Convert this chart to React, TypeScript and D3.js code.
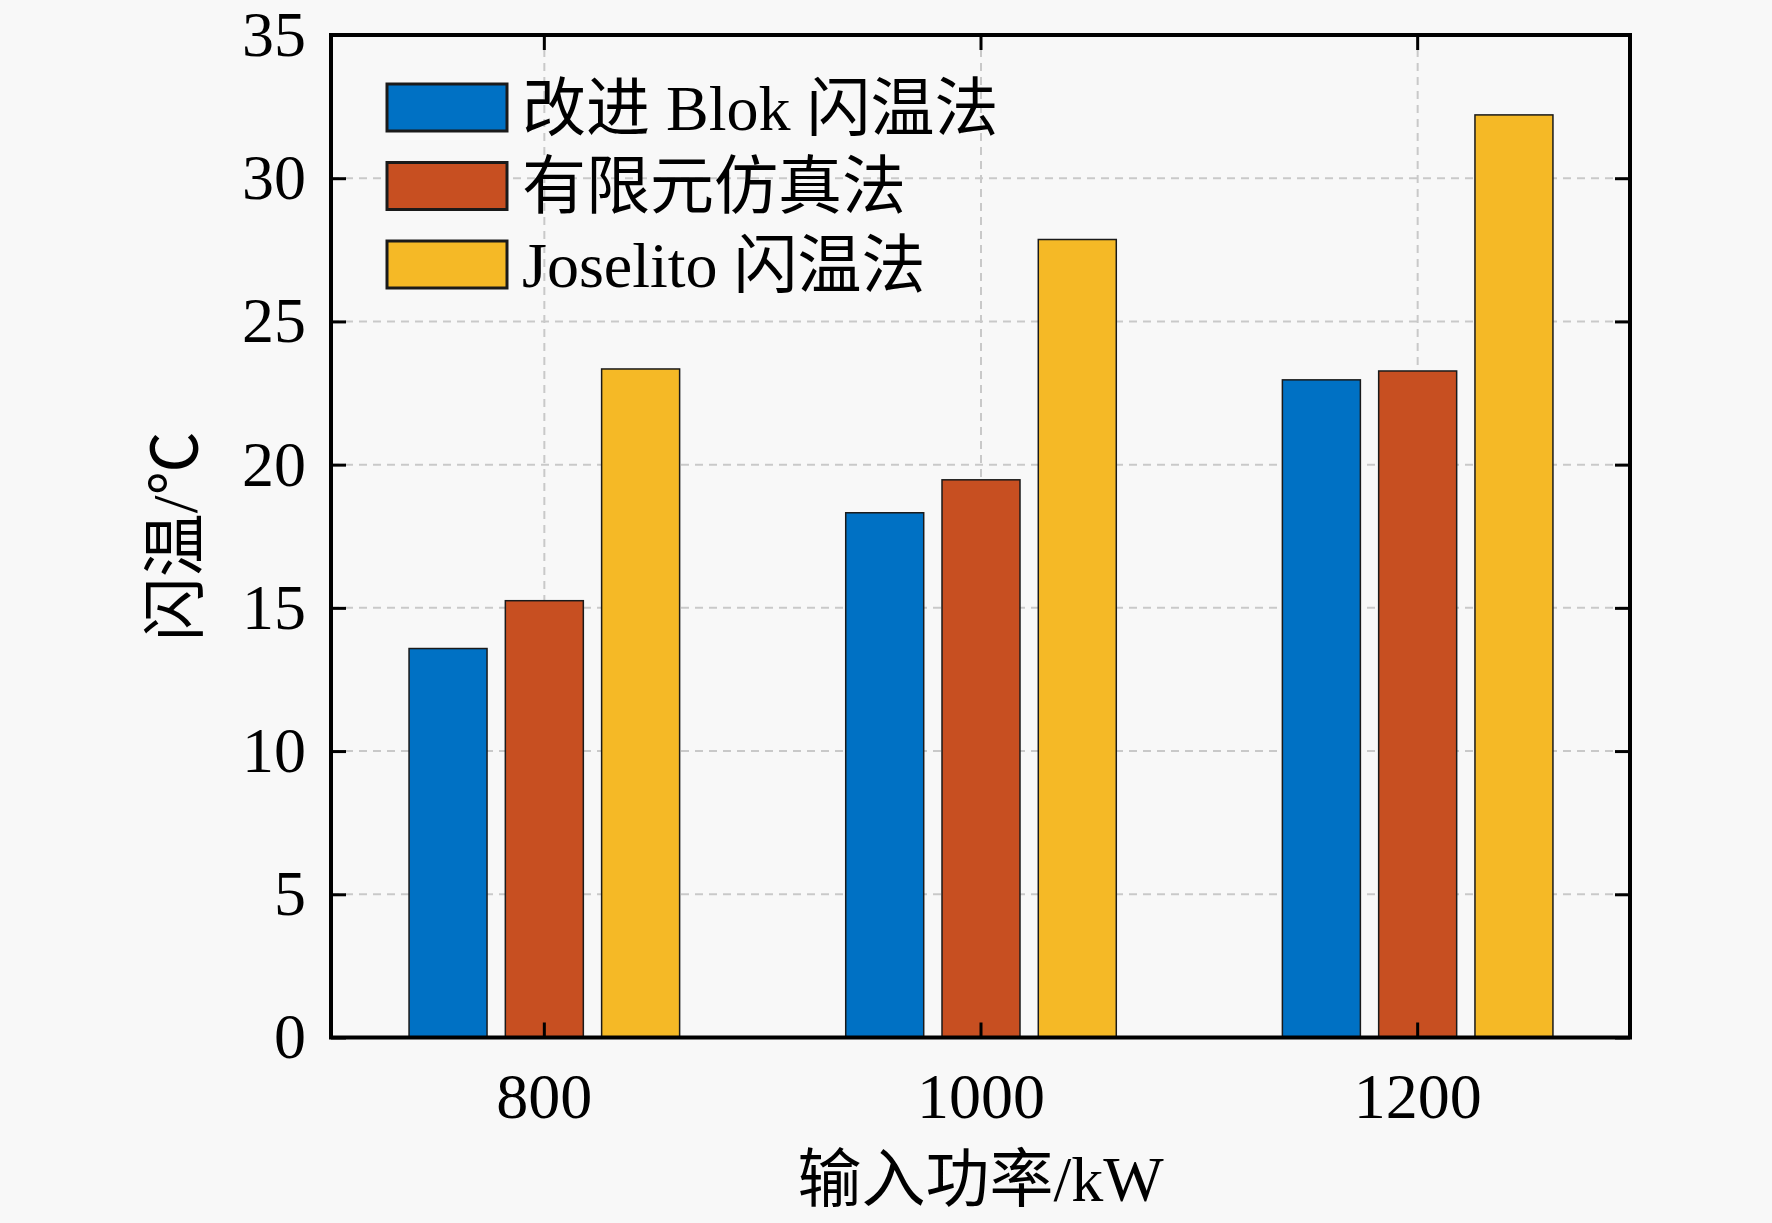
import React, { useEffect, useRef } from "react";
import * as d3 from "d3";

// chart data
const categories = ["800", "1000", "1200"];
const seriesNames = ["改进 Blok 闪温法", "有限元仿真法", "Joselito 闪温法"];
const blokValues = [13.58, 18.32, 22.96];
const femValues = [15.25, 19.47, 23.27];
const joselitoValues = [23.34, 27.86, 32.21];
const yTicks = [0, 5, 10, 15, 20, 25, 30, 35];
const xLabel = "输入功率/kW";
const yLabel = "闪温/℃";

const colors = ["#0071C4", "#C74F21", "#F5B926"];
const fontFamily = '"Liberation Serif", "Times New Roman", "Noto Sans CJK SC", serif';

export default function App() {
  const ref = useRef<SVGSVGElement>(null);

  useEffect(() => {
    const width = 1772;
    const height = 1223;
    const margin = { top: 35, right: 142, bottom: 185.5, left: 331 };

    const svg = d3.select(ref.current!);
    svg.selectAll("*").remove();
    svg.attr("width", width).attr("height", height);

    svg
      .append("rect")
      .attr("width", width)
      .attr("height", height)
      .attr("fill", "#f8f8f8");

    const innerW = width - margin.left - margin.right;
    const innerH = height - margin.top - margin.bottom;

    const bounds = svg
      .append("g")
      .attr("transform", `translate(${margin.left}, ${margin.top})`);

    // category axis runs a touch wider than the frame in the original
    const x0 = d3.scaleBand<string>().domain(categories).range([-5, innerW + 6]).padding(0);
    const x1 = d3
      .scaleBand<number>()
      .domain([0, 1, 2])
      .range([0, x0.bandwidth()])
      .paddingInner(0.19)
      .paddingOuter(0.8625);
    const y = d3.scaleLinear().domain([0, 35]).range([innerH, 0]);

    const series = [blokValues, femValues, joselitoValues];

    // grid
    const grid = bounds.append("g");
    grid
      .selectAll(".hgrid")
      .data(yTicks.filter((t) => t > 0 && t < 35))
      .enter()
      .append("line")
      .attr("x1", 0)
      .attr("x2", innerW)
      .attr("y1", (d) => y(d))
      .attr("y2", (d) => y(d))
      .attr("stroke", "#c9c9c9")
      .attr("stroke-width", 2)
      .attr("stroke-dasharray", "8 6");
    grid
      .selectAll(".vgrid")
      .data(categories)
      .enter()
      .append("line")
      .attr("x1", (d) => x0(d)! + x0.bandwidth() / 2)
      .attr("x2", (d) => x0(d)! + x0.bandwidth() / 2)
      .attr("y1", 0)
      .attr("y2", innerH)
      .attr("stroke", "#c9c9c9")
      .attr("stroke-width", 2)
      .attr("stroke-dasharray", "8 6");

    // bars
    series.forEach((vals, si) => {
      bounds
        .append("g")
        .selectAll("rect")
        .data(vals)
        .enter()
        .append("rect")
        .attr("x", (d, i) => x0(categories[i])! + x1(si)!)
        .attr("width", x1.bandwidth())
        .attr("y", (d) => y(d))
        .attr("height", (d) => innerH - y(d))
        .attr("fill", colors[si])
        .attr("stroke", "#1a1a1a")
        .attr("stroke-width", 1.5);
    });

    // axes
    const styleAxis = (g: d3.Selection<SVGGElement, any, any, any>) => {
      g.select(".domain").remove();
      g.selectAll("line").attr("stroke", "#000").attr("stroke-width", 3);
      g.selectAll("text")
        .attr("fill", "#000")
        .style("font-family", fontFamily)
        .style("font-size", "64px");
    };

    bounds
      .append("g")
      .call(d3.axisLeft(y).tickValues(yTicks).tickSize(-15).tickPadding(25))
      .call(styleAxis);
    bounds
      .append("g")
      .attr("transform", `translate(${innerW},0)`)
      .call(d3.axisRight(y).tickValues(yTicks).tickSize(-15).tickFormat(() => ""))
      .call(styleAxis);
    bounds
      .append("g")
      .attr("transform", `translate(0,${innerH})`)
      .call(d3.axisBottom(x0).tickSize(-15).tickPadding(35))
      .call(styleAxis);
    bounds
      .append("g")
      .call(d3.axisTop(x0).tickSize(-15).tickFormat(() => ""))
      .call(styleAxis);

    // frame
    bounds
      .append("rect")
      .attr("width", innerW)
      .attr("height", innerH)
      .attr("fill", "none")
      .attr("stroke", "#000")
      .attr("stroke-width", 4);

    // legend
    const legend = svg.append("g").attr("transform", "translate(387, 84)");
    seriesNames.forEach((name, i) => {
      const row = legend.append("g").attr("transform", `translate(0, ${i * 78.5})`);
      row
        .append("rect")
        .attr("width", 120)
        .attr("height", 47)
        .attr("fill", colors[i])
        .attr("stroke", "#1a1a1a")
        .attr("stroke-width", 3);
      row
        .append("text")
        .attr("x", 135)
        .attr("y", 23.5)
        .attr("dy", "0.35em")
        .style("font-family", fontFamily)
        .style("font-size", "64px")
        .attr("fill", "#000")
        .text(name);
    });

    // axis labels
    svg
      .append("text")
      .attr("x", margin.left + innerW / 2)
      .attr("y", 1201)
      .attr("text-anchor", "middle")
      .style("font-family", fontFamily)
      .style("font-size", "64px")
      .attr("fill", "#000")
      .text(xLabel);
    svg
      .append("text")
      .attr("transform", `translate(175, ${margin.top + innerH / 2}) rotate(-90)`)
      .attr("text-anchor", "middle")
      .attr("dy", "0.35em")
      .style("font-family", fontFamily)
      .style("font-size", "64px")
      .attr("fill", "#000")
      .text(yLabel);
  }, []);

  return (
    <div style={{ position: "absolute", left: 0, top: 0 }}>
      <svg ref={ref} style={{ display: "block" }} />
    </div>
  );
}
